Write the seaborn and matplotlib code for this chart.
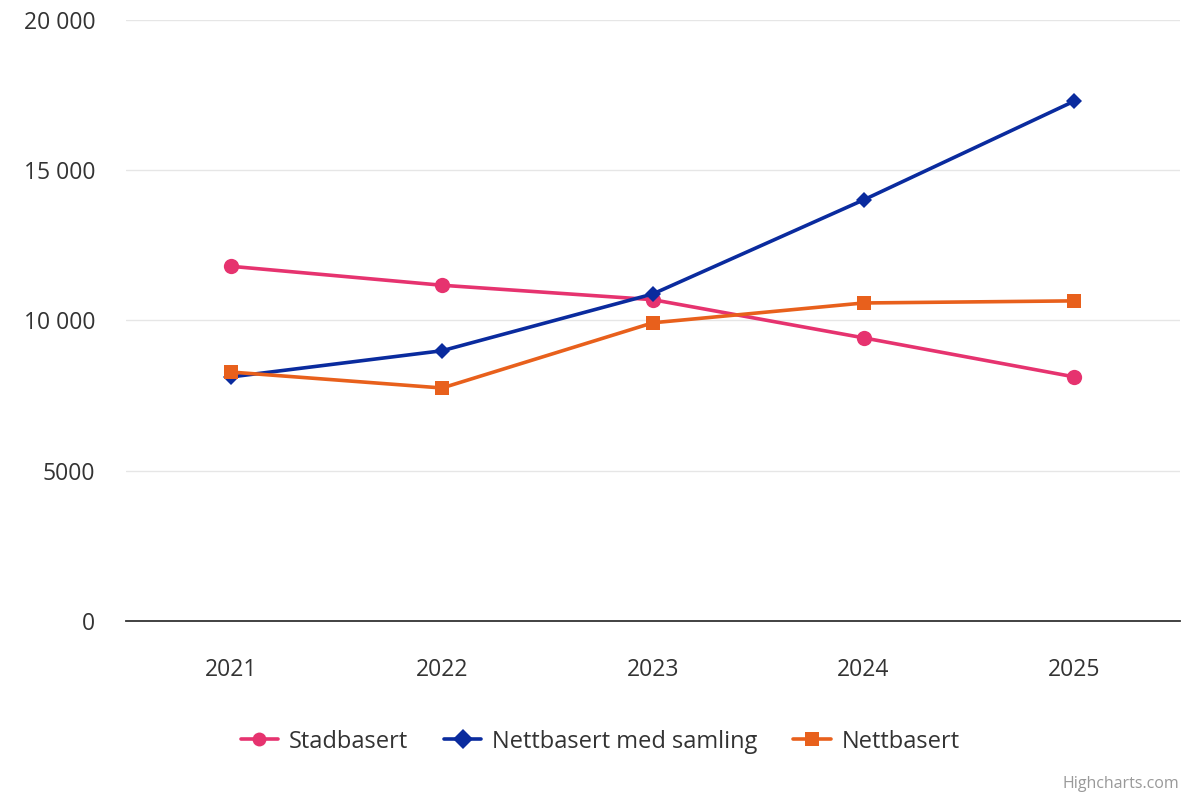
import matplotlib
matplotlib.use("Agg")
import matplotlib.pyplot as plt
import matplotlib.ticker as mticker
import seaborn as sns
import pandas as pd

# data
years = [2021, 2022, 2023, 2024, 2025]
stadbasert = [11800, 11170, 10690, 9420, 8120]
nettbasert_samling = [8120, 8990, 10880, 14010, 17300]
nettbasert = [8280, 7750, 9920, 10580, 10650]

series_names = ["Stadbasert", "Nettbasert med samling", "Nettbasert"]
colors = ["#e6336f", "#0a2b9e", "#e8601c"]
markers = ["o", "D", "s"]

df = pd.DataFrame({
    "year": years * 3,
    "value": stadbasert + nettbasert_samling + nettbasert,
    "series": [series_names[0]] * 5 + [series_names[1]] * 5 + [series_names[2]] * 5,
})

sns.set_theme(style="white")
plt.rcParams["font.family"] = ["Open Sans", "DejaVu Sans"]

fig = plt.figure(figsize=(12, 8), dpi=100)
ax = fig.add_axes([0.105, 0.224, 0.878, 0.751])

sns.lineplot(data=df, x="year", y="value", hue="series", style="series",
             hue_order=series_names, style_order=series_names,
             palette=colors, markers=markers, dashes=False,
             linewidth=2.6, markersize=10, markeredgewidth=0, ax=ax)

# square / diamond a bit smaller like the reference
for line, ms in zip(ax.get_lines()[:3], [11, 8.5, 10]):
    line.set_markersize(ms)

ax.set_xlim(2020.5, 2025.5)
ax.set_ylim(0, 20000)
ax.set_xticks(years)
ax.set_yticks([0, 5000, 10000, 15000, 20000])


def fmt(v, pos):
    v = int(v)
    if v >= 10000:
        return f"{v:,}".replace(",", " ")
    return str(v)


ax.yaxis.set_major_formatter(mticker.FuncFormatter(fmt))
ax.grid(axis="y", color="#e6e6e6", linewidth=1)
ax.set_axisbelow(True)
for s in ["top", "right", "left"]:
    ax.spines[s].set_visible(False)
ax.spines["bottom"].set_color("#333333")
ax.spines["bottom"].set_linewidth(1.3)
ax.tick_params(axis="y", length=0, pad=22, labelsize=16.5, labelcolor="#333333")
ax.tick_params(axis="x", length=0, pad=27, labelsize=16.5, labelcolor="#333333")
ax.set_xlabel("")
ax.set_ylabel("")

handles, labels = ax.get_legend_handles_labels()
for h in handles:
    h.set_linewidth(2.6)
ax.get_legend().remove()
fig.legend(handles, labels, loc="center", bbox_to_anchor=(0.5, 0.073),
           ncol=3, frameon=False, fontsize=17, labelcolor="#333333",
           handlelength=1.6, columnspacing=1.5, handletextpad=0.45)

fig.text(0.983, 0.01, "Highcharts.com", ha="right", va="bottom",
         fontsize=11.5, color="#999999")

fig.savefig("out.png", dpi=100)
